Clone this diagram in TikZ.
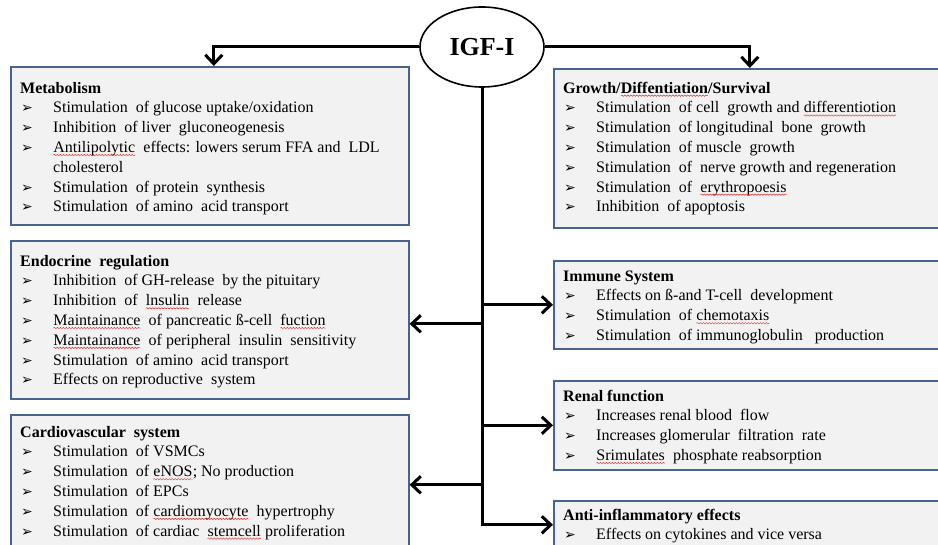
\documentclass[tikz,border=0pt]{standalone}
\usepackage{fontspec}
\setmainfont{Liberation Serif}
\newfontfamily\dejavu{DejaVu Sans}
\usetikzlibrary{arrows.meta,shapes.geometric,decorations.pathmorphing}
\definecolor{boxfill}{RGB}{242,242,242}
\definecolor{boxline}{RGB}{70,100,145}
\definecolor{wavered}{RGB}{225,40,40}
\newcommand\spl[1]{\tikz[baseline=(w.base)]{\node[inner sep=0pt,outer sep=0pt] (w) {#1};
  \draw[wavered, line width=0.45pt, decorate, decoration={snake, amplitude=0.7pt, segment length=3pt}] ([yshift=-2.6pt]w.base west) -- ([yshift=-2.6pt]w.base east);}}
\newcommand\bul{\makebox[33pt][l]{\hspace{1pt}{\dejavu\fontsize{14}{14}\selectfont ➢}}}
\tikzset{
  box/.style={draw=boxline, fill=boxfill, line width=1.6pt, anchor=north west, inner sep=0pt},
  txt/.style={inner sep=0pt, align=left, anchor=north west, font=\fontsize{16}{19.8}\selectfont},
  arr/.style={line width=3pt, -{Straight Barb[length=9pt,width=17pt]}},
  hub/.style={draw, ellipse, line width=1.6pt, fill=white, minimum width=124pt, minimum height=80pt, inner sep=0pt, font=\fontsize{26}{30}\selectfont\bfseries}
}
\begin{document}
\begin{tikzpicture}[x=1pt,y=-1pt]
\useasboundingbox (0,0) rectangle (938,545);
\clip (0,0) rectangle (938,545);
% boxes
\node[box, minimum width=398pt, minimum height=158pt] (met) at (10,66) {};
\node[box, minimum width=398pt, minimum height=158pt] (endo) at (10,240) {};
\node[box, minimum width=398pt, minimum height=140pt] (cardio) at (10,414) {};
\node[box, minimum width=392pt, minimum height=159pt] (grw) at (553,68) {};
\node[box, minimum width=392pt, minimum height=88pt] (imm) at (553,260) {};
\node[box, minimum width=392pt, minimum height=89pt] (ren) at (553,380) {};
\node[box, minimum width=392pt, minimum height=48pt] (anti) at (553,500) {};
% texts
\node[txt] (mett) at ([shift={(10,13)}]met.north west) {\textbf{\strut Metabolism}\\
\bul Stimulation\ \ of glucose uptake/oxidation\\
\bul Inhibition\ \ of liver\ \ gluconeogenesis\\
\bul \spl{Antilipolytic}\ \ effects: lowers serum FFA and\ \ LDL\\
\hspace*{33pt}cholesterol\\
\bul Stimulation\ \ of protein\ \ synthesis\\
\bul Stimulation\ \ of amino\ \ acid transport};
\node[txt] (endot) at ([shift={(10,12)}]endo.north west) {\textbf{\strut Endocrine\ \ regulation}\\
\bul Inhibition\ \ of GH-release\ \ by the pituitary\\
\bul Inhibition\ \ of\ \ \spl{lnsulin}\ \ release\\
\bul \spl{Maintainance}\ \ of pancreatic ß-cell\ \ \spl{fuction}\\
\bul \spl{Maintainance}\ \ of peripheral\ \ insulin\ \ sensitivity\\
\bul Stimulation\ \ of amino\ \ acid transport\\
\bul Effects on reproductive\ \ system};
\node[txt] (cardiot) at ([shift={(10,9)}]cardio.north west) {\textbf{\strut Cardiovascular\ \ system}\\
\bul Stimulation\ \ of VSMCs\\
\bul Stimulation\ \ of \spl{eNOS}; No production\\
\bul Stimulation\ \ of EPCs\\
\bul Stimulation\ \ of \spl{cardiomyocyte}\ \ hypertrophy\\
\bul Stimulation\ \ of cardiac\ \ \spl{stemcell} proliferation};
\node[txt] (grwt) at ([shift={(10,11)}]grw.north west) {\textbf{\strut Growth/\spl{Diffentiation}/Survival}\\
\bul Stimulation\ \ of cell\ \ growth and \spl{differentiotion}\\
\bul Stimulation\ \ of longitudinal\ \ bone\ \ growth\\
\bul Stimulation\ \ of muscle\ \ growth\\
\bul Stimulation\ \ of\ \ nerve growth and regeneration\\
\bul Stimulation\ \ of\ \ \spl{erythropoesis}\\
\bul Inhibition\ \ of apoptosis};
\node[txt] (immt) at ([shift={(10,7)}]imm.north west) {\textbf{\strut Immune System}\\
\bul Effects on ß-and\ T-cell\ \ development\\
\bul Stimulation\ \ of \spl{chemotaxis}\\
\bul Stimulation\ \ of immunoglobulin\ \ \ production};
\node[txt] (rent) at ([shift={(10,7)}]ren.north west) {\textbf{\strut Renal function}\\
\bul Increases renal blood\ \ flow\\
\bul Increases glomerular\ \ filtration\ \ rate\\
\bul \spl{Srimulates}\ \ phosphate reabsorption};
\node[txt] (antit) at ([shift={(10,6)}]anti.north west) {\textbf{\strut Anti-inflammatory effects}\\
\bul Effects on cytokines and vice versa};
% hub
\node[hub] (igf) at (482,47) {IGF-I};
% connectors
\coordinate (mtop) at ([xshift=4pt]met.north);
\coordinate (eside) at ([yshift=-4pt]endo.east);
\draw[arr] (igf.west) -| (mtop);
\draw[arr] (igf.east) -| (grw.north);
\draw[arr] (igf.south) |- (anti.west);
\draw[arr] (igf.south |- imm.west) -- (imm.west);
\draw[arr] (igf.south |- ren.west) -- (ren.west);
\draw[arr] (igf.south |- eside) -- (eside);
\draw[arr] (igf.south |- cardio.east) -- (cardio.east);
\end{tikzpicture}
\end{document}
